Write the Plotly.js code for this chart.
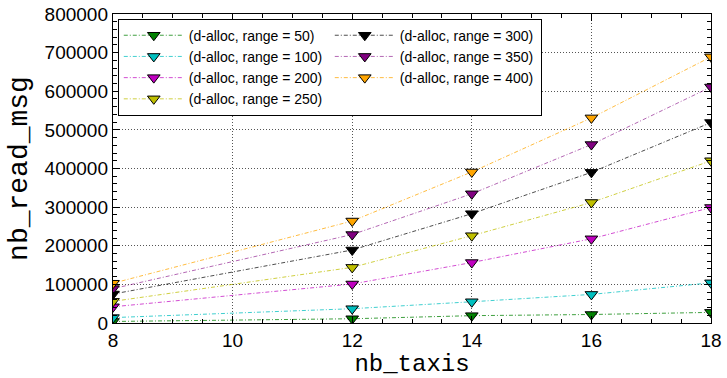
<!DOCTYPE html>
<html>
<head>
<meta charset="utf-8">
<script src="https://cdn.plot.ly/plotly-3.0.1.min.js"></script>
<style>
  html, body { margin: 0; padding: 0; background: #ffffff; }
  #chart { width: 727px; height: 378px; }
</style>
</head>
<body>
<div id="chart"></div>
<script>
// Number of taxis on the x axis
const nbTaxis = [8, 12, 14, 16, 18];

// nb_read_msg for each communication range (d-alloc)
const range50  = [4000, 11000, 19000, 22000, 27500];
const range100 = [14000, 37000, 55000, 74000, 104000];
const range200 = [42000, 101000, 156500, 218000, 299000];
const range250 = [56000, 144000, 226000, 312000, 420000];
const range300 = [75000, 189000, 283000, 390000, 519000];
const range350 = [89000, 229000, 334500, 462000, 611000];
const range400 = [103000, 264000, 391000, 531000, 689000];

const seriesNames = [
  '(d-alloc, range = 50)', '(d-alloc, range = 100)', '(d-alloc, range = 200)',
  '(d-alloc, range = 250)', '(d-alloc, range = 300)', '(d-alloc, range = 350)',
  '(d-alloc, range = 400)'
];
const seriesValues = [range50, range100, range200, range250, range300, range350, range400];

// marker colour and a softer line colour per series
const markerColors = ['#008000', '#00bfbf', '#bf00bf', '#bfbf00', '#000000', '#800080', '#ffa500'];
const lineColors = ['rgba(0,128,0,0.75)', 'rgba(0,191,191,0.75)', 'rgba(191,0,191,0.7)',
                    'rgba(191,191,0,0.75)', 'rgba(0,0,0,0.7)', 'rgba(128,0,128,0.6)',
                    'rgba(255,165,0,0.75)'];
// legend laid out in two columns: first four on the left, last three on the right
const legendRanks = [1, 3, 5, 7, 2, 4, 6];

const traces = seriesValues.map((vals, i) => ({
  type: 'scatter',
  mode: 'lines+markers',
  x: nbTaxis,
  y: vals,
  name: seriesNames[i],
  legendrank: legendRanks[i],
  line: { color: lineColors[i], width: 1, dash: '4px,2px,1px,2px' },
  marker: { symbol: 'triangle-down', size: 11, color: markerColors[i],
            line: { color: '#000000', width: 1 } },
  cliponaxis: true
}));

const axisCommon = {
  showline: true, linecolor: '#000000', linewidth: 1.2, mirror: 'allticks',
  ticks: 'inside', ticklen: 7, tickwidth: 1, tickcolor: '#000000',
  showgrid: true, gridcolor: '#555555', gridwidth: 1, griddash: '1px,2px',
  zeroline: false,
  tickfont: { family: 'Liberation Sans, Arial, sans-serif', size: 19, color: '#000000' }
};

const layout = {
  width: 727, height: 378,
  margin: { l: 113, r: 16, t: 14, b: 55 },
  paper_bgcolor: '#ffffff', plot_bgcolor: '#ffffff',
  showlegend: true,
  xaxis: Object.assign({}, axisCommon, {
    range: [8, 18], tick0: 8, dtick: 2,
    minor: { dtick: 0.5, ticks: 'inside', ticklen: 4, tickcolor: '#000000', showgrid: false },
    title: { text: 'nb_taxis', standoff: 6,
             font: { family: 'Liberation Mono, Courier New, monospace', size: 24, color: '#000000' } }
  }),
  yaxis: Object.assign({}, axisCommon, {
    range: [0, 800000], tick0: 0, dtick: 100000, tickformat: 'd',
    minor: { dtick: 20000, ticks: 'inside', ticklen: 4, tickcolor: '#000000', showgrid: false },
    title: { text: 'nb_read_msg', standoff: 8,
             font: { family: 'Liberation Mono, Courier New, monospace', size: 28, color: '#000000' } }
  }),
  legend: {
    orientation: 'h',
    x: 0.008, y: 0.985, xanchor: 'left', yanchor: 'top',
    entrywidth: 136, entrywidthmode: 'pixels',
    itemwidth: 60,
    bgcolor: '#ffffff', bordercolor: '#000000', borderwidth: 1,
    font: { family: 'Liberation Sans, Arial, sans-serif', size: 14, color: '#000000' },
    tracegroupgap: 0
  }
};

Plotly.newPlot('chart', traces, layout, { displayModeBar: false, staticPlot: true });
</script>
</body>
</html>
